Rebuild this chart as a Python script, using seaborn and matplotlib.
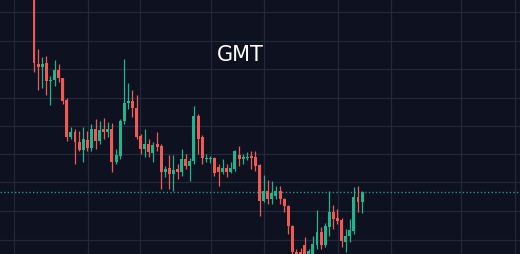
import numpy as np
import pandas as pd
import matplotlib
matplotlib.use("Agg")
import matplotlib.pyplot as plt
import seaborn as sns

title = "GMT"
opens = [0.320, 0.235, 0.232, 0.236, 0.218, 0.219, 0.229, 0.221, 0.199, 0.162,
         0.167, 0.157, 0.149, 0.159, 0.151, 0.170, 0.158, 0.170, 0.167, 0.170,
         0.137, 0.143, 0.178, 0.196, 0.198, 0.191, 0.163, 0.150, 0.155, 0.146,
         0.155, 0.153, 0.127, 0.131, 0.125, 0.130, 0.127, 0.140, 0.133, 0.138,
         0.183, 0.162, 0.140, 0.140, 0.141, 0.132, 0.127, 0.131, 0.127, 0.130,
         0.144, 0.140, 0.141, 0.143, 0.142, 0.134, 0.098, 0.108, 0.100, 0.103,
         0.108, 0.100, 0.093, 0.073, 0.047, 0.047, 0.054, 0.042, 0.045, 0.054,
         0.067, 0.054, 0.072, 0.087, 0.081, 0.079, 0.057, 0.063, 0.068, 0.102,
         0.097]
highs = [0.330, 0.250, 0.242, 0.243, 0.223, 0.239, 0.235, 0.221, 0.201, 0.172,
         0.170, 0.168, 0.172, 0.168, 0.175, 0.180, 0.178, 0.181, 0.177, 0.176,
         0.150, 0.180, 0.240, 0.216, 0.209, 0.204, 0.165, 0.170, 0.160, 0.157,
         0.167, 0.155, 0.133, 0.144, 0.144, 0.135, 0.150, 0.145, 0.141, 0.193,
         0.185, 0.164, 0.145, 0.143, 0.142, 0.135, 0.140, 0.135, 0.137, 0.149,
         0.153, 0.145, 0.147, 0.148, 0.148, 0.135, 0.124, 0.119, 0.118, 0.113,
         0.113, 0.101, 0.094, 0.074, 0.050, 0.051, 0.062, 0.050, 0.063, 0.089,
         0.072, 0.076, 0.108, 0.094, 0.090, 0.081, 0.070, 0.080, 0.112, 0.113,
         0.108]
lows = [0.227, 0.209, 0.211, 0.204, 0.194, 0.213, 0.217, 0.195, 0.158, 0.160,
        0.135, 0.148, 0.137, 0.148, 0.148, 0.150, 0.155, 0.160, 0.162, 0.127,
        0.135, 0.140, 0.175, 0.190, 0.182, 0.160, 0.145, 0.142, 0.142, 0.137,
        0.148, 0.110, 0.122, 0.110, 0.108, 0.120, 0.123, 0.130, 0.118, 0.135,
        0.145, 0.135, 0.137, 0.136, 0.123, 0.113, 0.125, 0.122, 0.126, 0.128,
        0.133, 0.135, 0.139, 0.130, 0.128, 0.083, 0.097, 0.095, 0.095, 0.100,
        0.095, 0.087, 0.065, 0.040, 0.038, 0.036, 0.035, 0.034, 0.038, 0.050,
        0.050, 0.052, 0.063, 0.070, 0.075, 0.052, 0.047, 0.057, 0.065, 0.087,
        0.086]
closes = [0.236, 0.232, 0.235, 0.218, 0.219, 0.229, 0.221, 0.198, 0.162, 0.167,
          0.157, 0.149, 0.160, 0.151, 0.170, 0.158, 0.169, 0.167, 0.170, 0.137,
          0.144, 0.178, 0.196, 0.198, 0.191, 0.162, 0.150, 0.155, 0.147, 0.154,
          0.152, 0.127, 0.130, 0.125, 0.129, 0.127, 0.140, 0.133, 0.138, 0.183,
          0.160, 0.141, 0.141, 0.141, 0.126, 0.127, 0.131, 0.127, 0.131, 0.148,
          0.140, 0.142, 0.142, 0.141, 0.133, 0.098, 0.108, 0.100, 0.106, 0.108,
          0.100, 0.093, 0.073, 0.047, 0.044, 0.043, 0.042, 0.048, 0.055, 0.067,
          0.054, 0.073, 0.087, 0.080, 0.078, 0.058, 0.063, 0.069, 0.102, 0.097,
          0.107]

df = pd.DataFrame({"open": opens, "high": highs, "low": lows, "close": closes})
df["idx"] = np.arange(len(df))
df["up"] = df["close"] >= df["open"]

BG = "#0d1120"
GRID = "#232939"
UP = "#22b48c"
DOWN = "#ef5a57"

sns.set_theme(style="dark", rc={
    "axes.facecolor": BG, "figure.facecolor": BG,
    "axes.edgecolor": BG, "grid.color": GRID,
})
plt.rcParams['font.family'] = ['DejaVu Sans']

fig = plt.figure(figsize=(5.2, 2.55), dpi=100)
ax = fig.add_axes([0, 0, 1, 1])
ax.set_facecolor(BG)

# grid
hgrid = [0.287, 0.258, 0.230, 0.201, 0.173, 0.145, 0.117, 0.088, 0.059]
vgrid = [-4.88, 13.17, 25.85, 43.17, 56.1, 74.15, 87.07, 104.15, 117.3]
for g in hgrid:
    ax.axhline(g, color=GRID, lw=0.9, zorder=0)
for g in vgrid:
    ax.axvline(g, color=GRID, lw=0.9, zorder=0)

colors = np.where(df["up"], UP, DOWN)
ax.vlines(df["idx"], df["low"], df["high"], colors=colors, lw=0.9, zorder=2)
body_bottom = np.minimum(df["open"], df["close"])
body_h = np.maximum(np.abs(df["close"] - df["open"]), 0.0012)
ax.bar(df["idx"], body_h, bottom=body_bottom, width=0.72, color=colors,
       linewidth=0, zorder=3)

# last price dotted line
ax.axhline(closes[-1], color="#3f8990", lw=1.0, ls=(0, (1, 1.6)), zorder=1)

ax.set_xlim(-8.29, 118.5)
ax.set_ylim(0.045, 0.300)
ax.set_xticks([])
ax.set_yticks([])
ax.grid(False)
for s in ax.spines.values():
    s.set_visible(False)

ax.text(0.4615, 0.785, title, transform=ax.transAxes, ha="center", va="center",
        color="white", fontsize=15)

fig.savefig("out.png", dpi=100, facecolor=BG)
